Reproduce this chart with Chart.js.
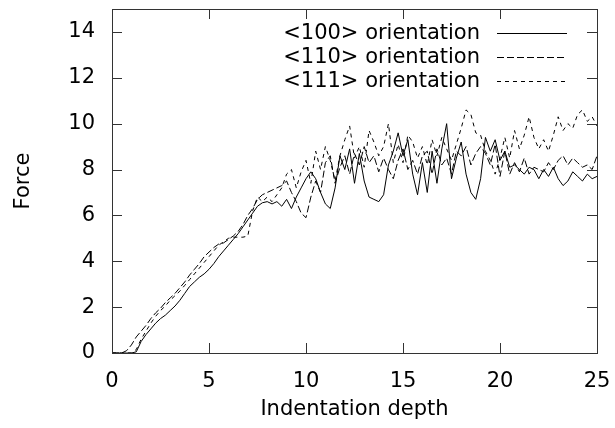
<!DOCTYPE html>
<html>
<head>
<meta charset="utf-8">
<script src="https://cdn.jsdelivr.net/npm/chart.js@4/dist/chart.umd.min.js"></script>
<style>
html,body{margin:0;padding:0;background:#fff;}
#wrap{width:615px;height:428px;position:relative;}
</style>
</head>
<body>
<div id="wrap"><canvas id="c" width="615" height="428"></canvas></div>
<script>
const depth = [0,0.25,0.5,0.75,1,1.25,1.5,1.75,2,2.25,2.5,2.75,3,3.25,3.5,3.75,4,4.25,4.5,4.75,5,5.25,5.5,5.75,6,6.25,6.5,6.75,7,7.25,7.5,7.75,8,8.25,8.5,8.75,9,9.25,9.5,9.75,10,10.25,10.5,10.75,11,11.25,11.5,11.75,12,12.25,12.5,12.75,13,13.25,13.5,13.75,14,14.25,14.5,14.75,15,15.25,15.5,15.75,16,16.25,16.5,16.75,17,17.25,17.5,17.75,18,18.25,18.5,18.75,19,19.25,19.5,19.75,20,20.25,20.5,20.75,21,21.25,21.5,21.75,22,22.25,22.5,22.75,23,23.25,23.5,23.75,24,24.25,24.5,24.75,25];

const force100 = [0,0,0,0,0,0.05,0.5,0.8,1.05,1.3,1.5,1.65,1.85,2.05,2.3,2.6,2.9,3.1,3.3,3.45,3.65,3.9,4.2,4.45,4.7,4.95,5.2,5.5,5.8,6.1,6.4,6.55,6.6,6.5,6.6,6.4,6.7,6.3,6.8,7.2,7.6,7.9,7.6,7.0,6.5,6.3,7.2,8.6,8.0,8.9,7.4,8.7,7.5,6.8,6.7,6.6,6.9,8.2,8.8,9.6,8.6,9.3,7.8,6.9,8.3,7.0,8.8,7.4,8.9,10.0,7.6,8.5,9.2,7.8,7.0,6.7,7.6,9.4,8.8,9.3,8.4,8.8,8.1,8.2,8.0,7.8,8.1,8.0,7.6,8.0,7.7,8.1,7.6,7.3,7.5,7.9,7.7,7.5,7.8,7.6,7.7];

const force110 = [0,0,0,0.1,0.35,0.7,0.95,1.2,1.5,1.75,1.95,2.2,2.4,2.6,2.85,3.1,3.4,3.65,3.9,4.2,4.4,4.6,4.75,4.8,4.95,5.1,5.3,5.6,6.0,6.3,6.7,6.9,7.0,7.1,7.2,7.3,7.5,7.0,6.6,6.1,5.9,6.8,7.5,7.0,8.3,8.6,7.4,8.1,8.6,7.8,8.7,8.2,9.0,8.3,8.6,7.9,8.5,8.0,7.6,8.4,8.9,8.0,8.4,7.8,8.6,8.8,7.8,8.9,8.2,8.5,7.8,8.8,8.6,9.0,8.2,8.7,9.0,8.7,8.2,9.1,7.7,8.8,7.8,8.3,7.9,8.5,7.8,8.1,8.0,7.9,8.3,8.0,8.4,8.6,8.2,8.5,8.3,8.1,8.2,8.0,8.6];

const force111 = [0,0,0,0,0,0.15,0.6,0.95,1.3,1.6,1.85,2.05,2.3,2.5,2.7,2.95,3.2,3.45,3.7,3.95,4.2,4.45,4.7,4.85,5.0,5.05,5.05,5.05,5.1,6.2,6.8,6.6,6.8,6.6,6.9,7.2,7.8,8.0,7.2,7.9,8.4,7.4,8.8,8.0,9.0,8.4,7.5,8.6,9.3,9.9,8.5,9.0,8.1,9.7,9.2,8.6,9.0,10.0,8.3,9.1,8.3,9.5,9.2,8.5,9.0,8.2,9.3,8.6,9.4,8.9,8.4,9.1,9.8,10.6,10.4,9.6,9.5,8.8,8.4,7.8,8.5,9.4,8.5,9.7,8.9,9.5,10.3,9.4,8.9,9.3,8.8,9.5,10.3,9.7,10.0,9.8,10.4,10.6,10.1,10.3,9.9];

const seriesNames = ['<100> orientation','<110> orientation','<111> orientation'];
const xTicks = [0,5,10,15,20,25];
const yTicks = [0,2,4,6,8,10,12,14];
const xTitle = 'Indentation depth';
const yTitle = 'Force';

const FONT = '"DejaVu Sans", sans-serif';
const FS = 21;
const dashes = [[], [7,3], [4,4]];

function pts(arr){ return depth.map((x,i)=>({x:x,y:arr[i]})); }

function noPad(s){ s.paddingTop=0; s.paddingBottom=0; s.paddingLeft=0; s.paddingRight=0; }

const frame = {
  id:'frame',
  afterDraw(chart){
    const ctx = chart.ctx, a = chart.chartArea;
    const xs = chart.scales.x, ys = chart.scales.y;
    ctx.save();
    ctx.strokeStyle = '#333';
    ctx.lineWidth = 1;
    ctx.setLineDash([]);
    ctx.strokeRect(Math.round(a.left)+0.5, Math.round(a.top)+0.5, Math.round(a.right-a.left), Math.round(a.bottom-a.top));
    const L = 10;
    ctx.beginPath();
    xTicks.forEach(v=>{
      const px = Math.round(xs.getPixelForValue(v))+0.5;
      ctx.moveTo(px,a.bottom); ctx.lineTo(px,a.bottom-L);
      ctx.moveTo(px,a.top); ctx.lineTo(px,a.top+L);
    });
    yTicks.forEach(v=>{
      const py = Math.round(ys.getPixelForValue(v))+0.5;
      ctx.moveTo(a.left,py); ctx.lineTo(a.left+L,py);
      ctx.moveTo(a.right,py); ctx.lineTo(a.right-L,py);
    });
    ctx.stroke();
    // axis titles
    ctx.fillStyle = '#000';
    ctx.font = FS + 'px ' + FONT;
    ctx.textAlign = 'center';
    ctx.textBaseline = 'middle';
    ctx.fillText(xTitle, (a.left+a.right)/2, 410);
    ctx.save();
    ctx.translate(24, (a.top+a.bottom)/2);
    ctx.rotate(-Math.PI/2);
    ctx.fillText(yTitle, 0, 0);
    ctx.restore();
    // legend
    ctx.textAlign = 'right';
    const rows = [33,57,81];
    seriesNames.forEach((n,i)=>{
      ctx.fillStyle='#000';
      ctx.fillText(n, 480, rows[i]+1);
      ctx.beginPath();
      ctx.setLineDash(dashes[i]);
      ctx.strokeStyle='#000';
      ctx.moveTo(497, rows[i]+0.5); ctx.lineTo(567, rows[i]+0.5);
      ctx.stroke();
    });
    ctx.restore();
  }
};

new Chart(document.getElementById('c'), {
  type:'line',
  data:{
    datasets: seriesNames.map((n,i)=>({
      label:n,
      data: pts([force100,force110,force111][i]),
      borderColor:'#000',
      borderWidth:1,
      borderDash:dashes[i],
      pointRadius:0,
      tension:0,
      fill:false
    }))
  },
  options:{
    responsive:false,
    animation:false,
    devicePixelRatio:1,
    layout:{padding:{top:9,right:18,left:0,bottom:0}},
    plugins:{legend:{display:false},tooltip:{enabled:false}},
    scales:{
      x:{
        type:'linear',min:0,max:25,
        afterBuildTicks(s){ s.ticks = xTicks.map(v=>({value:v})); },
        afterFit(s){ s.height = 75; noPad(s); },
        grid:{display:false,drawTicks:false},
        border:{display:false},
        ticks:{color:'#000',font:{family:FONT,size:FS},padding:16,maxRotation:0}
      },
      y:{
        type:'linear',min:0,max:15,
        afterBuildTicks(s){ s.ticks = yTicks.map(v=>({value:v})); },
        afterFit(s){ s.width = 112; noPad(s); },
        grid:{display:false,drawTicks:false},
        border:{display:false},
        ticks:{color:'#000',font:{family:FONT,size:FS},padding:17}
      }
    }
  },
  plugins:[frame]
});
</script>
</body>
</html>
